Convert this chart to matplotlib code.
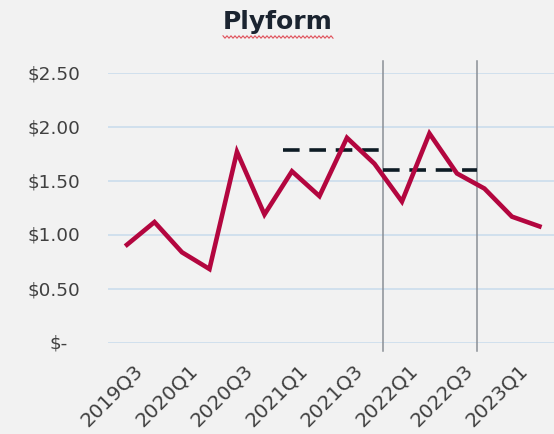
import matplotlib
matplotlib.use("Agg")
import matplotlib.pyplot as plt
from matplotlib.lines import Line2D
from matplotlib.transforms import ScaledTranslation
import numpy as np

quarters = ["2019Q3", "2019Q4", "2020Q1", "2020Q2", "2020Q3", "2020Q4",
            "2021Q1", "2021Q2", "2021Q3", "2021Q4", "2022Q1", "2022Q2",
            "2022Q3", "2022Q4", "2023Q1", "2023Q2"]
prices = [0.91, 1.12, 0.84, 0.685, 1.77, 1.19, 1.59, 1.36, 1.90, 1.66,
          1.31, 1.94, 1.57, 1.43, 1.17, 1.08]

ytick_vals = [0, 0.5, 1.0, 1.5, 2.0, 2.5]
ytick_labels = ["$-", "$0.50", "$1.00", "$1.50", "$2.00", "$2.50"]

# average reference levels (dashed) and period separators
avg_levels = [1.787, 1.60]
avg_spans = [(5.67, 9.16), (9.3, 12.73)]
separators = [9.3, 12.72]

BG = "#f2f2f2"
fig = plt.figure(figsize=(5.54, 4.35), dpi=100, facecolor=BG)
ax = fig.add_axes([108/554, 1-344/435, 446/554, (344-74)/435])
ax.set_facecolor(BG)

x = np.arange(len(quarters))
ax.set_xlim(-0.69, 15.53)
ax.set_ylim(0, 2.5)

for s in ax.spines.values():
    s.set_visible(False)

for v in ytick_vals:
    ax.axhline(v, color="#c8dbec", lw=1.1, zorder=1)

ax.set_yticks([])
for v, lab in zip(ytick_vals, ytick_labels):
    xr = -0.0628 if lab != "$-" else -0.0897
    ax.text(xr, v, lab, transform=ax.get_yaxis_transform(), ha="right",
            va="center", fontsize=13.3, color="#404040", family="DejaVu Sans")

for sx in separators:
    ax.plot([sx, sx], [-0.075, 2.61], color="#8a8f96", lw=1.1, clip_on=False, zorder=2)

for lvl, (a, b) in zip(avg_levels, avg_spans):
    ax.plot([a, b], [lvl, lvl], color="#0d1b24", lw=2.6, dashes=(4.6, 2.7), zorder=3)

ax.plot(x, prices, color="#b3063f", lw=3.3, solid_joinstyle="miter", zorder=4)

ax.set_xticks(x[::2])
ax.set_xticklabels(quarters[::2], rotation=45, ha="right", va="top",
                   rotation_mode="anchor", fontsize=14.3, color="#404040",
                   family="DejaVu Sans")
ax.tick_params(axis="x", length=0, pad=12)
off = ScaledTranslation(6/100, 0, fig.dpi_scale_trans)
for lbl in ax.get_xticklabels():
    lbl.set_transform(lbl.get_transform() + off)

fig.text(0.502, 0.949, "Plyform", ha="center", va="center", fontsize=18,
         fontweight="bold", color="#1b2430", family="DejaVu Sans")
# spell-check squiggle under title
xs = np.linspace(223/554, 333/554, 56)
ys = 1 - 38/435 + np.where(np.arange(56) % 2 == 0, 1.2, -1.2)/435
fig.add_artist(Line2D(xs, ys, color="#e0505a", lw=0.8))

fig.savefig("out.png", dpi=100, facecolor=BG)
